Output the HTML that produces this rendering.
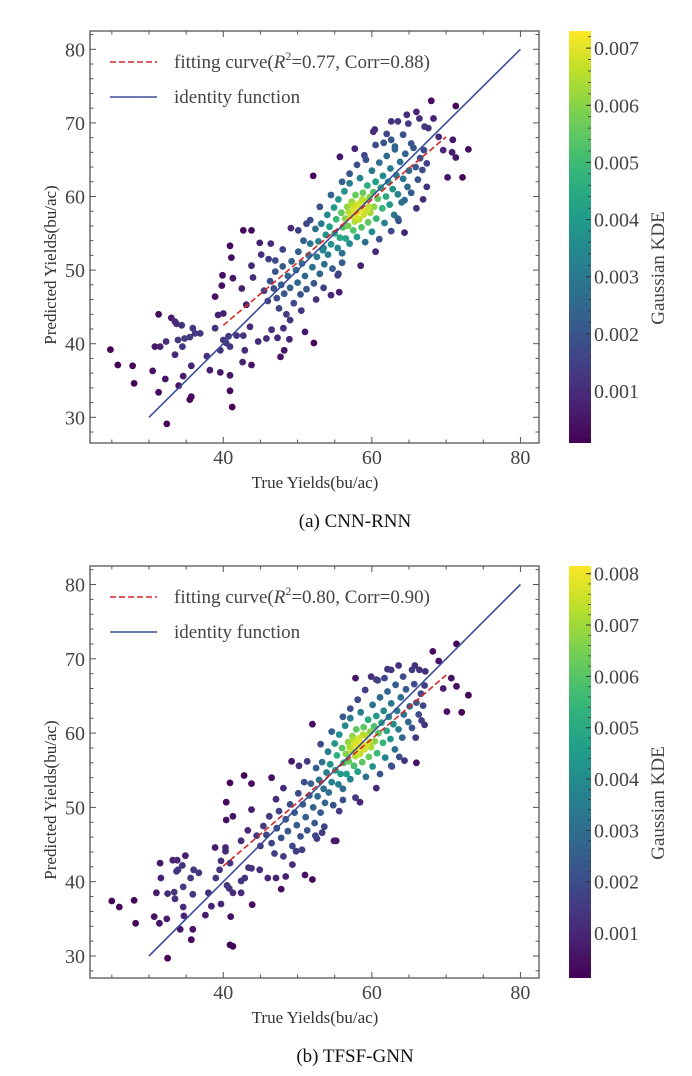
<!DOCTYPE html>
<html><head><meta charset="utf-8">
<style>
html,body{margin:0;padding:0;background:#fff;}
svg{display:block;font-family:"Liberation Serif","DejaVu Serif",serif;}
</style></head>
<body>
<svg id="fig" width="692" height="1076" viewBox="0 0 692 1076" xmlns="http://www.w3.org/2000/svg"></svg>
<script>
// ---------- DATA ----------
const xTicks = [40, 60, 80];
const yTicks = [30, 40, 50, 60, 70, 80];
const cbTicksA = [0.001, 0.002, 0.003, 0.004, 0.005, 0.006, 0.007];
const cbTicksB = [0.001, 0.002, 0.003, 0.004, 0.005, 0.006, 0.007, 0.008];
const cbRangeA = [0.00009, 0.0073];
const cbRangeB = [0.000125, 0.00815];
const fitA = [[40, 42.5], [70, 68.1]];
const fitB = [[40, 42.1], [70, 67.8]];
const identityLine = [[30, 30], [80, 80]];
const legendFitA = "0.77", legendCorrA = "0.88";
const legendFitB = "0.80", legendCorrB = "0.90";

const pointsA = [
[24.8,39.2],[25.8,37.1],[27.8,37.0],[28.0,34.6],[30.5,36.3],[30.8,39.6],[31.5,39.6],[31.3,44.0],[32.2,35.2],[31.3,33.4],
[32.4,29.1],[32.3,40.3],[33.0,43.5],[33.5,43.0],[33.7,42.7],[34.4,42.5],[33.5,38.5],[33.9,40.5],[34.5,39.6],[34.0,34.3],
[34.6,35.6],[34.8,40.7],[35.5,40.9],[35.9,42.1],[36.2,41.4],[36.9,41.4],[35.7,37.0],[35.7,32.8],[35.5,32.4],[37.8,38.3],
[38.2,36.4],[38.9,42.1],[39.6,36.1],[39.3,43.9],[40.0,44.1],[40.4,40.1],[40.0,40.5],[39.6,39.1],[40.9,39.6],[40.9,35.7],
[40.9,33.6],[41.2,31.4],[40.7,41.0],[38.9,46.4],[39.9,49.3],[39.8,47.9],[40.9,53.3],[41.1,51.7],[41.3,48.9],[42.7,55.4],
[43.8,55.4],[42.5,47.5],[42.7,41.1],[42.6,37.5],[43.8,37.1],[42.9,39.1],[41.8,41.1],[44.7,40.3],[43.8,50.6],[44.9,53.7],
[45.1,52.1],[46.4,53.6],[46.1,51.5],[44.0,49.0],[43.1,45.3],[43.6,42.3],[45.8,40.7],[46.5,41.9],[47.3,40.8],[47.7,38.2],
[48.2,39.1],[48.9,40.6],[49.0,43.2],[48.1,42.1],[49.1,55.7],[50.1,55.4],[51.0,41.6],[52.2,40.1],[52.1,62.8],[55.6,47.0],
[54.5,46.6],[55.4,49.3],[53.5,53.0],[51.7,56.8],[58.5,50.6],[55.7,65.4],[57.7,66.5],[59.2,65.0],[60.2,68.8],[60.4,69.1],
[62.6,70.2],[63.5,70.2],[64.9,69.9],[64.7,71.1],[66.0,71.5],[66.4,70.6],[67.1,69.5],[67.6,69.3],[68.3,70.6],[68.0,73.0],
[71.3,72.3],[69.0,68.1],[69.6,66.3],[70.9,67.7],[70.8,66.0],[71.3,65.3],[73.0,66.4],[70.2,62.6],[72.2,62.6],[67.4,64.5],
[67.4,61.3],[66.9,59.6],[66.0,58.4],[64.4,55.1],[63.5,57.0],[64.4,59.5],[62.6,67.7],[63.1,66.8],[64.2,68.4],[65.3,67.2],
[45.5,47.2],[46,45.8],[46.3,48.5],[46.8,47.5],[47,49.8],[47.2,46.2],[47.5,44.8],[47.8,48],[48,50.5],[48.2,46.8],
[48.5,44],[48.7,49.2],[49,47.6],[49.2,51.2],[49.5,45.5],[49.8,50],[50,48.3],[50.1,52.5],[50.4,46.7],[50.6,50.9],
[50.8,54],[51,49.2],[51.2,47.4],[51.5,52],[51.7,53.6],[52,50.4],[52.2,48.2],[52.4,55.6],[52.6,51.8],[52.8,53.9],
[53,49.5],[53.2,56.3],[53.4,52.7],[53.6,50.8],[53.8,54.8],[54,57.5],[54.1,52.1],[54.3,55.9],[54.5,53.5],[54.7,50.2],
[54.9,58.5],[55,55],[55.2,56.9],[55.4,53],[55.5,59.6],[55.7,54.4],[55.9,57.8],[56,52.3],[56.1,55.8],[56.3,60.7],
[56.4,57],[56.5,54.3],[56.7,58.6],[56.8,56],[57,61.8],[57,53.6],[57.2,57.4],[57.3,59.3],[57.5,55.4],[57.6,58.2],
[57.7,56.6],[57.8,60.2],[58,57.8],[58,54.5],[58.2,59],[58.3,56.9],[58.4,62.5],[58.5,58.3],[58.6,55.8],[58.8,60.5],
[58.9,57.5],[59,59.4],[59.1,53.8],[59.3,58.1],[59.4,61.5],[59.5,56.5],[59.7,59.9],[59.8,57.8],[60,63.5],[60,55.2],
[60.2,60.6],[60.3,58.6],[60.5,62],[60.6,57],[60.8,59.7],[61,64.6],[61,54.2],[61.2,61.2],[61.4,58.4],[61.5,62.8],
[61.7,56.4],[61.9,60],[62,65.5],[62.2,62],[62.4,58.9],[62.5,63.8],[62.8,61],[63,57.5],[63.1,66.4],[63.3,62.9],
[63.5,60.3],[63.8,64.7],[64,59.2],[64.2,62.4],[64.5,65.8],[64.8,61.3],[65,63.5],[65.3,60.5],[65.6,66.6],[65.9,64],
[66.2,62.3],[66.5,65.2],[66.8,63.6],[67,66.3],[50.5,44.5],[52.5,46],[53.5,47.6],[55.5,49.5],[56,51],[60.5,67],
[58,64.3],[57,63.1],[62,68.5],[54.5,60.2],[53,58.6],[51.2,56.3],[48,52.8],[47,51.3],[56,62],[59,65.6],
[61.6,67.3],[60.5,52.5],[62.6,55.3],[63.6,56.7],[57.4,58.8],[58.1,58.9],[58.7,59.6],[57.9,57.2],[59.6,58.6],[56.9,57.9]
];

const pointsB = [
[25.0,37.4],[26.0,36.6],[28.0,37.5],[28.2,34.4],[30.7,35.3],[31.4,34.4],[31.0,38.5],[31.6,40.5],[31.5,42.5],[32.5,29.7],
[32.4,35.0],[32.5,38.4],[33.2,42.9],[33.8,42.9],[33.7,41.4],[33.9,41.6],[33.4,38.6],[33.5,37.7],[34.5,42.2],[34.9,43.5],
[34.6,39.3],[34.6,36.6],[34.7,35.4],[35.6,40.5],[36.0,41.6],[35.9,38.3],[35.9,33.6],[35.7,32.2],[34.2,33.6],[36.7,41.2],
[37.6,35.5],[38.0,38.5],[38.4,36.7],[39.0,40.5],[38.9,44.6],[39.5,41.6],[39.7,42.8],[39.7,37.0],[40.3,44.6],[40.3,44.1],
[40.5,39.5],[40.8,39.1],[40.9,42.5],[41.0,35.3],[40.9,31.5],[41.3,31.3],[41.3,38.5],[42.4,38.5],[42.4,40.1],[42.9,40.5],
[43.4,41.9],[43.9,36.9],[43.8,41.8],[44.9,41.6],[40.4,50.7],[40.4,48.3],[41.3,48.8],[40.9,53.3],[42.8,54.3],[43.8,53.2],
[43.8,49.7],[42.4,45.5],[43.3,46.9],[46.5,54.0],[46.0,40.5],[47.1,40.5],[47.8,39.0],[48.4,40.7],[49.3,42.3],[49.8,44.1],
[51.0,40.9],[52.0,40.3],[52.4,46.2],[53.3,46.6],[54.9,45.5],[52.0,61.2],[49.2,56.2],[50.2,55.6],[57.8,67.4],[59.9,67.6],
[60.8,67.1],[62.6,68.5],[63.6,69.1],[64.2,67.6],[65.4,68.5],[65.8,69.1],[66.4,68.5],[67.2,68.3],[68.2,71.0],[69.0,69.7],
[71.4,72.0],[70.7,67.4],[71.4,66.3],[69.6,66.0],[73.0,65.1],[70.1,62.9],[72.1,62.8],[66.0,56.0],[64.4,56.3],[62.6,55.6],
[65.9,59.4],[67.1,61.1],[66.7,61.7],[58.4,50.7],[57.8,51.3],[55.2,45.5],
[44.5,46.2],[45,44.8],[45.4,47.5],[45.8,46.3],[46.2,48.8],[46.5,45.2],[46.9,43.8],[47.2,47.2],[47.5,49.5],[47.8,45.9],
[48.1,43.4],[48.4,48.4],[48.7,46.8],[49,50.4],[49.3,44.8],[49.6,49.3],[49.9,47.6],[50.1,51.9],[50.4,46.1],[50.7,50.4],
[50.9,53.4],[51.1,48.7],[51.3,46.9],[51.6,51.6],[51.8,53.2],[52.1,50],[52.3,47.9],[52.5,55.3],[52.7,51.5],[52.9,53.7],
[53.1,49.3],[53.3,56.1],[53.5,52.5],[53.7,50.6],[53.9,54.7],[54.1,57.5],[54.2,52],[54.4,55.8],[54.6,53.4],[54.8,50.3],
[55,58.6],[55.1,55],[55.3,57],[55.5,53.1],[55.6,59.8],[55.8,54.5],[56,58],[56.1,52.5],[56.2,56],[56.4,61],
[56.5,57.2],[56.6,54.5],[56.8,58.8],[56.9,56.2],[57.1,62],[57.1,53.8],[57.3,57.6],[57.4,59.6],[57.6,55.6],[57.7,58.5],
[57.8,56.9],[57.9,60.5],[58.1,58.1],[58.1,54.8],[58.3,59.3],[58.4,57.2],[58.5,62.8],[58.6,58.6],[58.7,56.1],[58.9,60.8],
[59,57.8],[59.1,59.7],[59.2,54.1],[59.4,58.4],[59.5,61.8],[59.6,56.8],[59.8,60.2],[59.9,58.1],[60.1,63.8],[60.1,55.5],
[60.3,60.9],[60.4,58.9],[60.6,62.3],[60.7,57.3],[60.9,60],[61.1,64.8],[61.1,54.5],[61.3,61.4],[61.5,58.7],[61.6,63],
[61.8,56.7],[62,60.3],[62.1,65.6],[62.3,62.2],[62.5,59.2],[62.6,64],[62.9,61.2],[63.1,57.8],[63.2,66.5],[63.4,63],
[63.6,60.5],[63.9,64.8],[64.1,59.4],[64.3,62.5],[64.6,65.9],[64.9,61.5],[65.1,63.6],[65.4,60.7],[65.7,66.6],[66,64.1],
[66.3,62.5],[66.6,65.3],[66.9,63.7],[67.1,66.4],[50.6,44.3],[52.6,45.8],[53.6,47.4],[55.6,49.5],[56.1,51],[60.6,67.2],
[58.1,64.5],[57.1,63.3],[62.1,68.6],[54.6,60.2],[53.1,58.5],[51.3,56.2],[48.1,52.6],[47.1,51.1],[56.1,62.2],[59.1,65.8],
[61.7,67.4],[60.6,52.6],[62.7,55.5],[63.7,56.8],[57.5,59],[58.2,59.1],[58.8,59.8],[58,57.4],[59.7,58.8],[57,58.1]
];

// ---------- HELPERS ----------
const NS = "http://www.w3.org/2000/svg";
const svg = document.getElementById("fig");
function mk(tag, attrs, parent) {
  const e = document.createElementNS(NS, tag);
  for (const k in attrs) e.setAttribute(k, attrs[k]);
  (parent || svg).appendChild(e);
  return e;
}
const VIR = [[68,1,84],[72,40,120],[62,73,137],[49,104,142],[38,130,142],[31,158,137],[53,183,121],[109,205,89],[180,222,44],[253,231,37]];
function viridis(t) {
  t = Math.max(0, Math.min(1, t));
  const p = t * (VIR.length - 1), i = Math.min(VIR.length - 2, Math.floor(p)), f = p - i;
  const a = VIR[i], b = VIR[i + 1];
  return "rgb(" + [0,1,2].map(k => Math.round(a[k] + (b[k] - a[k]) * f)).join(",") + ")";
}

function drawPanel(p) {
  const L = 90, R = 539, T = p.top, B = p.top + 412;
  const xMin = 22.06, xMax = 82.5;
  const yTop = p.y80, yBot = p.y30;
  const sx = v => L + (v - xMin) / (xMax - xMin) * (R - L);
  const sy = v => yBot - (v - 30) / 50 * (yBot - yTop);
  const g = mk("g", {});
  
  

  const pts = p.points;
  const bw = 2.6;
  const dens = pts.map(a => {
    let s = 0;
    for (const b of pts) { const dx = (a[0]-b[0])/bw, dy = (a[1]-b[1])/bw; s += Math.exp(-0.5*(dx*dx+dy*dy)); }
    return s;
  });
  const dmax = Math.max(...dens), dmin = Math.min(...dens);
  const order = pts.map((_, i) => i).sort((i, j) => dens[i] - dens[j]);
  const pg = mk("g", {}, g);
  
  
  for (const i of order) {
    const t = (dens[i] - dmin) / (dmax - dmin);
    const c = mk("circle", {cx: sx(pts[i][0]).toFixed(1), cy: sy(pts[i][1]).toFixed(1), r: 3.4, fill: viridis(Math.pow(t, 1.5) * 0.97)}, pg);
    
    
  }
  const il = mk("line", {x1: sx(identityLine[0][0]), y1: sy(identityLine[0][1]), x2: sx(identityLine[1][0]), y2: sy(identityLine[1][1]), stroke: "#3b4f98", "stroke-width": 1.6}, g);
  
  
  const fl = mk("line", {x1: sx(p.fit[0][0]), y1: sy(p.fit[0][1]), x2: sx(p.fit[1][0]), y2: sy(p.fit[1][1]), stroke: "#d62728", "stroke-width": 1.6, "stroke-dasharray": "6,3"}, g);
  
  

  const fr = mk("rect", {x: L, y: T, width: R - L, height: B - T, fill: "none", stroke: "#555", "stroke-width": 1.3}, g);
  
  
  for (let v = 25; v <= 80; v += 5) {
    const maj = xTicks.includes(v), len = maj ? 6 : 3.5, x = sx(v);
    mk("line", {x1: x, y1: B, x2: x, y2: B - len, stroke: "#555", "stroke-width": 1}, g);
    mk("line", {x1: x, y1: T, x2: x, y2: T + len, stroke: "#555", "stroke-width": 1}, g);
  }
  for (let v = 28; v <= 82; v += 2) {
    const maj = yTicks.includes(v), len = maj ? 6 : 3.5, y = sy(v);
    mk("line", {x1: L, y1: y, x2: L + len, y2: y, stroke: "#555", "stroke-width": 1}, g);
    mk("line", {x1: R, y1: y, x2: R - len, y2: y, stroke: "#555", "stroke-width": 1}, g);
  }
  for (const v of xTicks) {
    const t = mk("text", {x: sx(v), y: B + 21, "text-anchor": "middle", "font-size": 20, fill: "#444"}, g);
    t.textContent = v;
    
    
  }
  for (const v of yTicks) {
    const t = mk("text", {x: L - 5, y: sy(v) + 7, "text-anchor": "end", "font-size": 20, fill: "#444"}, g);
    t.textContent = v;
    
    
  }
  const xl = mk("text", {x: 315, y: B + 45, "text-anchor": "middle", "font-size": 17, fill: "#333"}, g);
  xl.textContent = "True Yields(bu/ac)";
  
  
  const ycy = T + 234;
  const yl = mk("text", {x: 56, y: ycy, "text-anchor": "middle", "font-size": 17, fill: "#333", transform: "rotate(-90 56 " + ycy + ")"}, g);
  yl.textContent = "Predicted Yields(bu/ac)";
  
  
  const cap = mk("text", {x: 355, y: B + 84, "text-anchor": "middle", "font-size": 19, fill: "#111"}, g);
  cap.textContent = p.caption;
  
  

  const lg = mk("g", {}, g);
  
  
  const ly1 = T + 31, ly2 = T + 66;
  mk("line", {x1: 110, y1: ly1, x2: 157, y2: ly1, stroke: "#d62728", "stroke-width": 1.6, "stroke-dasharray": "6,3"}, lg);
  const t1 = mk("text", {x: 174, y: ly1 + 6, "font-size": 19, fill: "#444"}, lg);
  
  
  t1.innerHTML = 'fitting curve(<tspan font-style="italic">R</tspan><tspan font-size="12" dy="-8">2</tspan><tspan dy="8">=' + p.r2 + ', Corr=' + p.corr + ')</tspan>';
  mk("line", {x1: 110, y1: ly2, x2: 157, y2: ly2, stroke: "#3b4f98", "stroke-width": 1.6}, lg);
  const t2 = mk("text", {x: 174, y: ly2 + 6, "font-size": 19, fill: "#444"}, lg);
  t2.textContent = "identity function";
  
  

  const cg = mk("g", {}, g);
  
  
  const gid = "grad" + p.top;
  const defs = mk("defs", {}, cg);
  const lgd = mk("linearGradient", {id: gid, x1: 0, y1: 1, x2: 0, y2: 0}, defs);
  for (let i = 0; i <= 20; i++) mk("stop", {offset: (i / 20), "stop-color": viridis(i / 20)}, lgd);
  const cx0 = 569, cx1 = 591;
  mk("rect", {x: cx0, y: T, width: cx1 - cx0, height: B - T, fill: "url(#" + gid + ")"}, cg);
  const cy = v => B - (v - p.cbRange[0]) / (p.cbRange[1] - p.cbRange[0]) * (B - T);
  for (let v = 0.0002; v < p.cbRange[1]; v += 0.0002) {
    const y = cy(v); if (y < T) continue;
    mk("line", {x1: cx1 - 3, y1: y, x2: cx1, y2: y, stroke: "#333", "stroke-width": 0.8}, cg);
  }
  for (const v of p.cbTicks) {
    const y = cy(v);
    mk("line", {x1: cx1 - 5, y1: y, x2: cx1, y2: y, stroke: "#333", "stroke-width": 1}, cg);
    const t = mk("text", {x: 594, y: y + 7, "font-size": 20, fill: "#444"}, cg);
    t.textContent = v.toFixed(3);
    
    
  }
  const ccy = T + 237;
  const ct = mk("text", {x: 664, y: ccy, "text-anchor": "middle", "font-size": 19, fill: "#444", transform: "rotate(-90 664 " + ccy + ")"}, cg);
  ct.textContent = "Gaussian KDE";
  
  
}

drawPanel({name: "panel-cnn-rnn", top: 31, y80: 49.3, y30: 417.3, points: pointsA, fit: fitA, r2: legendFitA, corr: legendCorrA, caption: "(a) CNN-RNN", cbTicks: cbTicksA, cbRange: cbRangeA});
drawPanel({name: "panel-tfsf-gnn", top: 566, y80: 584.5, y30: 956, points: pointsB, fit: fitB, r2: legendFitB, corr: legendCorrB, caption: "(b) TFSF-GNN", cbTicks: cbTicksB, cbRange: cbRangeB});
</script>
</body></html>
